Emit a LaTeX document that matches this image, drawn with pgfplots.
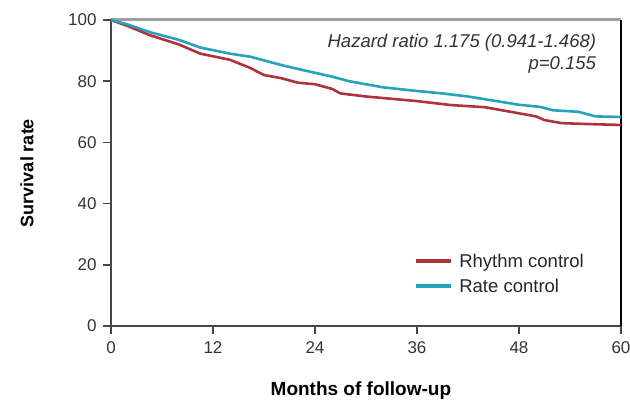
\documentclass[border=0pt]{standalone}
\usepackage{pgfplots}
\pgfplotsset{compat=1.18}
\usepackage{fontspec}
\setmainfont{Liberation Sans}
\definecolor{rhy}{RGB}{176,50,58}
\definecolor{rat}{RGB}{38,162,188}
\definecolor{axd}{RGB}{70,70,70}
\begin{document}
\begin{tikzpicture}
\useasboundingbox (-111pt,-75pt) rectangle (519pt,326pt);
\begin{axis}[
  scale only axis, width=510pt, height=306pt,
  at={(0pt,0pt)}, anchor=south west,
  xmin=0, xmax=60, ymin=0, ymax=100,
  xtick={0,12,24,36,48,60}, ytick={0,20,40,60,80,100},
  axis x line*=bottom, axis y line*=left,
  axis line style={axd, line width=2pt, -},
  tick style={axd, line width=1.6pt},
  tick align=outside, major tick length=8pt,
  /pgf/number format/assume math mode=true,
  tick label style={font=\fontsize{17}{20}\selectfont, text=black!80},
  xticklabel style={yshift=-4pt},
  yticklabel style={xshift=-3pt},
  every axis y label/.style={at={(axis description cs:-0.165,0.5)}, rotate=90, anchor=center},
  every axis x label/.style={at={(axis description cs:0.49,-0.21)}, anchor=center},
  ylabel={\fontsize{18}{20}\selectfont\bfseries Survival rate},
  xlabel={\fontsize{19}{22}\selectfont\bfseries Months of follow-up},
  clip=false,
  legend style={draw=none, fill=none, at={(0.945,0.25)}, anchor=north east,
    font=\fontsize{18.5}{21}\selectfont, row sep=6pt, text=black!85,
    nodes={inner xsep=6pt}},
  legend cell align=left,
  legend image code/.code={\draw[#1, line width=4pt] (0pt,0pt) -- (35pt,0pt);},
]
\draw[gray!75, line width=3pt] (rel axis cs:0,1) -- (rel axis cs:1,1);
\draw[black, line width=2.2pt] (rel axis cs:1,1) -- (rel axis cs:1,0);
\addplot[rhy, line width=2.6pt] coordinates {
(0,100) (2,98) (4.6,95) (8,92) (10.5,89) (14,87) (16.4,84.3) (18,82) (20,81) (22,79.5)
(24,79) (26,77.5) (27,76) (30,75) (32,74.5) (36,73.5) (40,72.2) (44,71.5) (46,70.5)
(48,69.5) (50,68.5) (51,67.3) (53,66.3) (56,66) (60,65.7)};
\addlegendentry{Rhythm control}
\addplot[rat, line width=2.6pt] coordinates {
(0,100) (2,98.5) (4.6,96) (8,93.5) (10.5,91) (14,89) (16.4,88) (20,85.3) (22,84)
(26,81.5) (28,80) (32,78) (36,76.8) (39,76) (42,75) (46,73.2) (48,72.3) (50.5,71.6)
(52,70.5) (55,70) (57,68.5) (60,68.3)};
\addlegendentry{Rate control}
\node[anchor=north east, align=right, font=\fontsize{18.5}{22}\selectfont\itshape, text=black!80]
  at (rel axis cs:0.958,0.965) {Hazard ratio 1.175 (0.941-1.468)\\p=0.155};
\end{axis}
\end{tikzpicture}
\end{document}
